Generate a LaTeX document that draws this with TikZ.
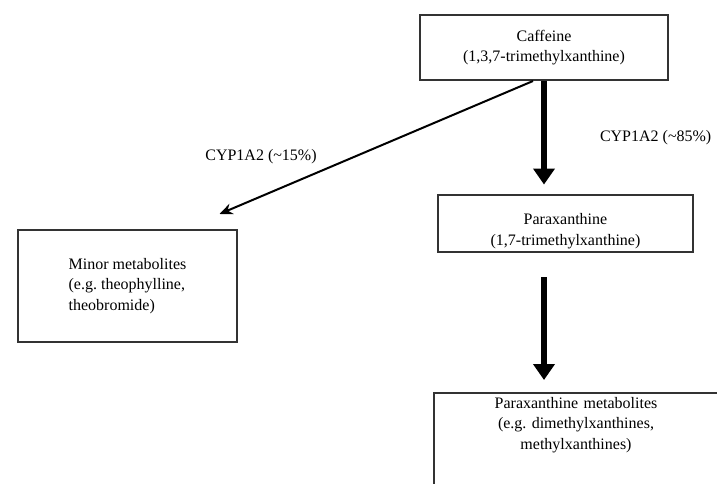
\documentclass[tikz,border=0pt]{standalone}
\usepackage{fontspec}
\setmainfont{Liberation Serif}
\usetikzlibrary{arrows.meta, positioning}
\tikzstyle{metabox} = [draw=black!80, line width=2pt, rectangle, inner sep=4pt, font=\fontsize{16}{20.5}\selectfont, align=center]
\tikzstyle{majorflow} = [line width=6pt, -{Triangle[width=21pt,length=16pt]}]
\tikzstyle{minorflow} = [line width=2pt, -{Stealth[width=11pt,length=13pt]}]
\tikzstyle{enzyme} = [font=\fontsize{16}{20}\selectfont, inner sep=3pt]

\begin{document}
\begin{tikzpicture}[x=1pt, y=-1pt]
	\clip (0,0) rectangle (717,483);
	\node [metabox, minimum width=248pt, minimum height=65pt] (caffeine) at (544,47.5)
		{Caffeine\\(1,3,7-trimethylxanthine)};
	\node [metabox, minimum width=255pt, minimum height=55pt] (parax) at (565.5,223.5)
		{\rule{0pt}{26pt}Paraxanthine\\(1,7-trimethylxanthine)};
	\node [metabox, align=left, minimum width=219pt, minimum height=112pt] (minor) at (127.5,286)
		{Minor metabolites\\(e.g.\ theophylline,\\theobromide)};
	\node [metabox, anchor=north west, text width=276pt] (pmet) at (433,392)
		{Paraxanthine metabolites\\(e.g.\ dimethylxanthines,\\methylxanthines)\rule[-80pt]{0pt}{0pt}};
	\coordinate (minortip) at ([xshift=92pt, yshift=15pt]minor.north);
	% main route
	\draw [majorflow, shorten >=9pt] (caffeine.south) --
		node [enzyme, right=50pt] (major) {CYP1A2 (\textasciitilde 85\%)} (caffeine.south |- parax.north);
	\draw [majorflow, shorten <=24pt, shorten >=12pt] (caffeine.south |- parax.south) -- (caffeine.south |- pmet.north);
	% side route
	\draw [minorflow] ([xshift=-11pt]caffeine.south) -- (minortip);
	\node [enzyme] (side) at (261,157) {CYP1A2 (\textasciitilde 15\%)};
\end{tikzpicture}
\end{document}
